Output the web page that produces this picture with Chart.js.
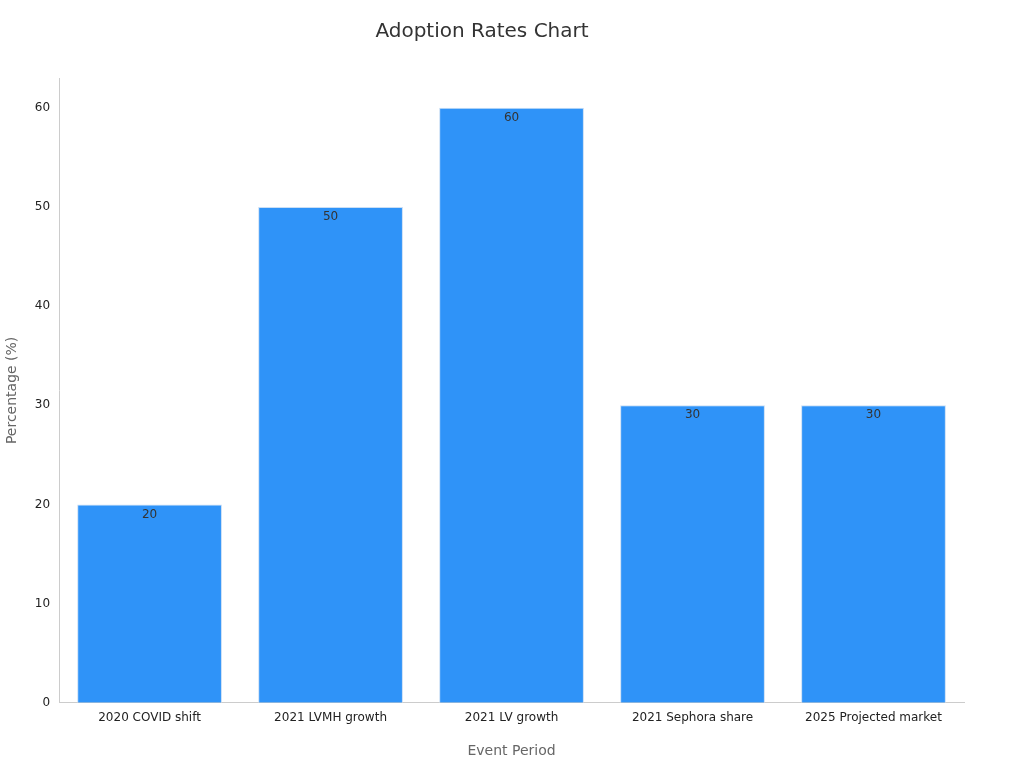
<!DOCTYPE html>
<html lang="en">
<head>
<meta charset="UTF-8">
<title>Adoption Rates Chart</title>
<script src="https://cdn.jsdelivr.net/npm/chart.js"></script>
<style>
  html, body { margin: 0; padding: 0; background: #fff; }
  #wrap { width: 1024px; height: 768px; }
</style>
</head>
<body>
<div id="wrap"><canvas id="chart"></canvas></div>
<script>
// Chart data
const categories = ['2020 COVID shift', '2021 LVMH growth', '2021 LV growth', '2021 Sephora share', '2025 Projected market'];
const adoptionValues = [20, 50, 60, 30, 30];
const yTicks = [0, 10, 20, 30, 40, 50, 60];

// Draws the value just inside the top of each bar
const barLabels = {
  id: 'barLabels',
  afterDatasetsDraw(chart) {
    const ctx = chart.ctx;
    ctx.save();
    ctx.font = '12px "DejaVu Sans"';
    ctx.fillStyle = '#333';
    ctx.textAlign = 'center';
    ctx.textBaseline = 'top';
    chart.getDatasetMeta(0).data.forEach((bar, i) => {
      ctx.fillText(String(adoptionValues[i]), bar.x, bar.y + 4);
    });
    ctx.restore();
  }
};

Chart.defaults.font.family = '"DejaVu Sans", sans-serif';

new Chart(document.getElementById('chart'), {
  type: 'bar',
  data: {
    labels: categories,
    datasets: [{
      data: adoptionValues,
      backgroundColor: '#2f93f8',
      borderColor: '#c9def5',
      borderWidth: 1,
      barPercentage: 0.8,
      categoryPercentage: 1
    }]
  },
  options: {
    responsive: true,
    maintainAspectRatio: false,
    animation: false,
    layout: { padding: { left: 0, right: 60, top: 0, bottom: 4 } },
    plugins: {
      legend: { display: false },
      tooltip: { enabled: false },
      title: {
        display: true,
        text: 'Adoption Rates Chart',
        color: '#333',
        font: { size: 20, weight: 'normal' },
        padding: { top: 20, bottom: 34 }
      }
    },
    scales: {
      x: {
        grid: { display: false, drawTicks: false },
        border: { color: '#ccc' },
        ticks: { color: '#222', font: { size: 12 }, padding: 8 },
        title: { display: true, text: 'Event Period', color: '#666', font: { size: 14 }, padding: { top: 10 } }
      },
      y: {
        min: 0,
        max: 63,
        afterBuildTicks: (axis) => { axis.ticks = yTicks.map(v => ({ value: v })); },
        grid: { display: false, drawTicks: true, tickLength: 5, tickColor: '#999' },
        border: { color: '#ccc' },
        ticks: { color: '#222', font: { size: 12 }, padding: 4 },
        title: { display: true, text: 'Percentage (%)', color: '#666', font: { size: 14 }, padding: { bottom: 10 } }
      }
    }
  },
  plugins: [barLabels]
});
</script>
</body>
</html>
